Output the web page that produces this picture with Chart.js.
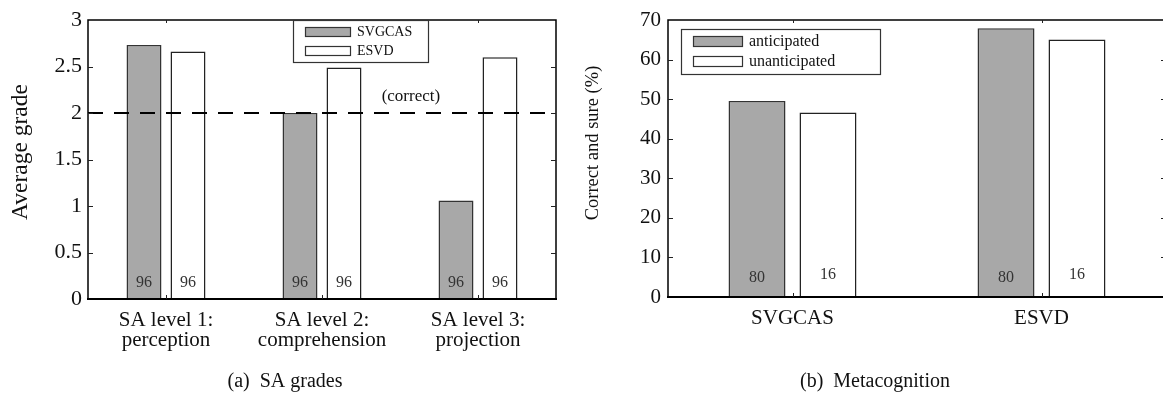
<!DOCTYPE html>
<html>
<head>
<meta charset="utf-8">
<script src="https://cdn.jsdelivr.net/npm/chart.js@4/dist/chart.umd.min.js"></script>
<style>
  html, body { margin: 0; padding: 0; background: #fff; overflow: hidden; width: 1163px; height: 396px; }
  #panelA { position: absolute; left: 0; top: 0; }
  #panelB { position: absolute; left: 580px; top: 0; }
</style>
</head>
<body>
<canvas id="panelA" width="580" height="396"></canvas>
<canvas id="panelB" width="600" height="396"></canvas>
<script>
// ---- (a) SA grades ----
const saLevels = [['SA level 1:', 'perception'], ['SA level 2:', 'comprehension'], ['SA level 3:', 'projection']];
const gradeSvgcas = [2.73, 2.00, 1.06];
const gradeEsvd = [2.66, 2.49, 2.60];
const gradeCountsSvgcas = [96, 96, 96];
const gradeCountsEsvd = [96, 96, 96];
const gradeTickLabels = ['0', '0.5', '1', '1.5', '2', '2.5', '3'];
const correctGrade = 2;

// ---- (b) Metacognition ----
const systems = ['SVGCAS', 'ESVD'];
const sureAnticipated = [49.5, 67.9];
const sureUnanticipated = [46.6, 65.1];
const countsAnticipated = [80, 80];
const countsUnanticipated = [16, 16];
const percentTickLabels = ['0', '10', '20', '30', '40', '50', '60', '70'];

const SERIF = "'Liberation Serif', 'Times New Roman', Times, serif";
const GREY = '#a8a8a8';

// Frame, inward ticks, reference line, counts, legend, titles and caption
const figureDecor = {
  id: 'figureDecor',
  afterDatasetsDraw(chart, args, o) {
    const { ctx, chartArea: a, scales: { x, y } } = chart;
    ctx.save();
    if (o.refLine) {
      const py = y.getPixelForValue(o.refLine.value);
      ctx.strokeStyle = '#000';
      ctx.lineWidth = 2;
      ctx.setLineDash([15, 11]);
      ctx.beginPath();
      ctx.moveTo(a.left, py);
      ctx.lineTo(a.right, py);
      ctx.stroke();
      ctx.setLineDash([]);
      ctx.fillStyle = '#111';
      ctx.font = `17px ${SERIF}`;
      ctx.textAlign = 'center';
      ctx.textBaseline = 'middle';
      ctx.fillText(o.refLine.label, a.left + a.width * o.refLine.xFrac, py - 16);
    }
    // sample counts at the foot of each bar
    ctx.fillStyle = '#333';
    ctx.font = `16px ${SERIF}`;
    ctx.textAlign = 'center';
    ctx.textBaseline = 'middle';
    const zero = y.getPixelForValue(0);
    chart.data.datasets.forEach((ds, di) => {
      chart.getDatasetMeta(di).data.forEach((bar, i) => {
        ctx.fillText(String(ds.counts[i]), bar.x, zero - o.countLift[di]);
      });
    });
    ctx.restore();
  },
  afterDraw(chart, args, o) {
    const { ctx, chartArea: a, scales: { x, y } } = chart;
    ctx.save();
    // frame
    ctx.strokeStyle = '#000';
    ctx.lineWidth = 1.5;
    ctx.beginPath();
    ctx.moveTo(a.left, a.bottom);
    ctx.lineTo(a.left, a.top);
    ctx.lineTo(a.right, a.top);
    ctx.lineTo(a.right, a.bottom);
    ctx.stroke();
    ctx.lineWidth = 2;
    ctx.beginPath();
    ctx.moveTo(a.left - 1, a.bottom);
    ctx.lineTo(a.right + 1, a.bottom);
    ctx.stroke();
    // inward ticks
    ctx.lineWidth = 1;
    ctx.strokeStyle = '#222';
    ctx.beginPath();
    y.ticks.forEach(t => {
      const py = Math.round(y.getPixelForValue(t.value)) + 0.5;
      if (py < a.top + 2 || py > a.bottom - 2) return;
      ctx.moveTo(a.left, py); ctx.lineTo(a.left + 5, py);
      ctx.moveTo(a.right, py); ctx.lineTo(a.right - 5, py);
    });
    x.ticks.forEach((t, i) => {
      const px = Math.round(x.getPixelForTick(i)) + 0.5;
      ctx.moveTo(px, a.top); ctx.lineTo(px, a.top + 3);
      ctx.moveTo(px, a.bottom); ctx.lineTo(px, a.bottom - 4);
    });
    ctx.stroke();
    // legend
    const L = o.legend;
    ctx.fillStyle = '#fff';
    ctx.fillRect(L.x, L.y, L.w, L.h);
    ctx.strokeStyle = '#333';
    ctx.lineWidth = 1.2;
    ctx.strokeRect(L.x + 0.5, L.y + 0.5, L.w, L.h);
    ctx.font = `${L.fontSize}px ${SERIF}`;
    ctx.textAlign = 'left';
    ctx.textBaseline = 'middle';
    chart.data.datasets.forEach((ds, di) => {
      const sy = L.y + L.rowTop + di * L.rowGap;
      ctx.fillStyle = ds.backgroundColor;
      ctx.fillRect(L.x + L.swX, sy, L.swW, L.swH);
      ctx.strokeStyle = '#333';
      ctx.lineWidth = 1.2;
      ctx.strokeRect(L.x + L.swX + 0.5, sy + 0.5, L.swW, L.swH);
      ctx.fillStyle = '#111';
      ctx.fillText(ds.label, L.x + L.swX + L.swW + 7, sy + L.swH / 2 + 0.5);
    });
    // y-axis title
    ctx.fillStyle = '#111';
    ctx.font = `${o.yTitle.size}px ${SERIF}`;
    ctx.textAlign = 'center';
    ctx.textBaseline = 'middle';
    ctx.translate(o.yTitle.x, o.yTitle.y);
    ctx.rotate(-Math.PI / 2);
    ctx.fillText(o.yTitle.text, 0, 0);
    ctx.setTransform(1, 0, 0, 1, 0, 0);
    // caption
    ctx.font = `20px ${SERIF}`;
    ctx.fillText(o.caption.text, o.caption.x, o.caption.y);
    ctx.restore();
  }
};

const commonOpts = {
  responsive: false,
  animation: false,
  devicePixelRatio: 1,
  events: []
};

new Chart(document.getElementById('panelA'), {
  type: 'bar',
  data: {
    labels: saLevels,
    datasets: [
      { label: 'SVGCAS', data: gradeSvgcas, counts: gradeCountsSvgcas, backgroundColor: GREY, borderColor: '#333', borderWidth: 1.5 },
      { label: 'ESVD', data: gradeEsvd, counts: gradeCountsEsvd, backgroundColor: '#ffffff', borderColor: '#222', borderWidth: 1.5 }
    ]
  },
  options: {
    ...commonOpts,
    layout: { padding: { top: 20, right: 24, left: 0, bottom: 0 } },
    datasets: { bar: { categoryPercentage: 0.564, barPercentage: 0.795 } },
    scales: {
      x: {
        grid: { display: false, drawTicks: false },
        border: { display: false },
        ticks: { font: { family: SERIF, size: 21, lineHeight: '20px' }, color: '#111', padding: 11, maxRotation: 0, autoSkip: false },
        afterFit(s) { s.height = 97; }
      },
      y: {
        min: 0, max: 3,
        grid: { display: false, drawTicks: false },
        border: { display: false },
        ticks: { stepSize: 0.5, font: { family: SERIF, size: 22 }, color: '#111', padding: 6,
                 callback: (v, i) => gradeTickLabels[i] },
        afterFit(s) { s.width = 88; }
      }
    },
    plugins: {
      legend: { display: false },
      tooltip: { enabled: false },
      figureDecor: {
        refLine: { value: correctGrade, label: '(correct)', xFrac: 0.69 },
        countLift: [16, 16],
        legend: { x: 293, y: 20, w: 135, h: 42, swX: 12, swW: 45, swH: 9, rowTop: 7, rowGap: 19, fontSize: 14 },
        yTitle: { text: 'Average grade', x: 21, y: 152, size: 23.5 },
        caption: { text: '(a)  SA grades', x: 285, y: 382 }
      }
    }
  },
  plugins: [figureDecor]
});

new Chart(document.getElementById('panelB'), {
  type: 'bar',
  data: {
    labels: systems,
    datasets: [
      { label: 'anticipated', data: sureAnticipated, counts: countsAnticipated, backgroundColor: GREY, borderColor: '#333', borderWidth: 1.5 },
      { label: 'unanticipated', data: sureUnanticipated, counts: countsUnanticipated, backgroundColor: '#ffffff', borderColor: '#222', borderWidth: 1.5 }
    ]
  },
  options: {
    ...commonOpts,
    layout: { padding: { top: 20, right: 14, left: 0, bottom: 0 } },
    datasets: { bar: { categoryPercentage: 0.570, barPercentage: 0.803 } },
    scales: {
      x: {
        grid: { display: false, drawTicks: false },
        border: { display: false },
        ticks: { font: { family: SERIF, size: 21, lineHeight: '20px' }, color: '#111', padding: 11, maxRotation: 0, autoSkip: false },
        afterFit(s) { s.height = 99; }
      },
      y: {
        min: 0, max: 70,
        grid: { display: false, drawTicks: false },
        border: { display: false },
        ticks: { stepSize: 10, font: { family: SERIF, size: 21 }, color: '#111', padding: 7,
                 callback: (v, i) => percentTickLabels[i] },
        afterFit(s) { s.width = 88; }
      }
    },
    plugins: {
      legend: { display: false },
      tooltip: { enabled: false },
      figureDecor: {
        countLift: [19, 22],
        legend: { x: 101, y: 29, w: 199, h: 45, swX: 12, swW: 49, swH: 10, rowTop: 7, rowGap: 20, fontSize: 16 },
        yTitle: { text: 'Correct and sure (%)', x: 13, y: 143, size: 18.5 },
        caption: { text: '(b)  Metacognition', x: 295, y: 382 }
      }
    }
  },
  plugins: [figureDecor]
});
</script>
</body>
</html>
